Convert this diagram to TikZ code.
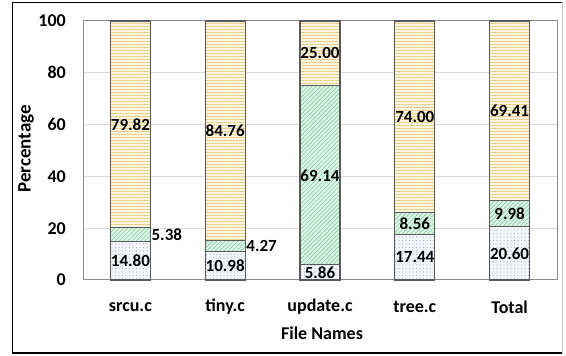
\documentclass[tikz,border=0pt]{standalone}
\usepackage{fontspec}
\setmainfont{Carlito}
\usepackage{tikz}
\usetikzlibrary{patterns.meta, positioning}
\definecolor{stripetan}{HTML}{EACB88}
\definecolor{stripecream}{HTML}{FDF6DE}
\definecolor{hatchgreen}{HTML}{86CDA3}
\definecolor{mintfill}{HTML}{DDF5E7}
\definecolor{dotblue}{HTML}{A3B4CC}
\definecolor{dotfill}{HTML}{F3F6FB}
\definecolor{gridgray}{HTML}{D9D9D9}
\definecolor{framegray}{HTML}{8C8C8C}
\definecolor{barline}{HTML}{5A5A5A}

\begin{document}
\begin{tikzpicture}[x=1pt, y=1pt,
  bar/.style={draw=barline, line width=1.1pt},
  topseg/.style={bar, preaction={fill=stripecream}, pattern={Lines[angle=0, distance=3pt, line width=0.9pt]}, pattern color=stripetan},
  midseg/.style={bar, preaction={fill=mintfill}, pattern={Lines[angle=45, distance=3pt, line width=0.6pt]}, pattern color=hatchgreen},
  lowseg/.style={bar, preaction={fill=dotfill}, pattern={Dots[distance=3.5pt, radius=0.55pt]}, pattern color=dotblue},
  val/.style={font=\fontsize{17}{17}\bfseries\selectfont, inner sep=0pt},
  axlab/.style={font=\fontsize{18}{18}\bfseries\selectfont, inner sep=0pt}]
  \useasboundingbox (0,0) rectangle (566,356);

  % Rahmen
  \draw[line width=1.5pt] (562,3) -- (12.5,3) -- (12.5,353.5) -- (562,353.5);
  \draw[gray!40, line width=1pt] (562,3) -- (562,353.5);

  \begin{scope}[shift={(83,76)}, y=2.59pt]
    % Gitter und Achsen
    \foreach \v in {20,40,60,80} \draw[gridgray, line width=0.8pt] (0,\v) -- (474,\v);
    \draw[framegray, line width=1pt] (0,0) rectangle (474,100);
    \foreach \v in {0,20,...,100}
      \node[axlab, anchor=east] (ytick\v) at (-17,\v) {\v};

    % Balken
    \foreach \i/\name/\lo/\mi/\hi/\ma/\mdx in {0/srcu.c/14.80/5.38/79.82/west/21,
        1/tiny.c/10.98/4.27/84.76/west/21, 2/update.c/5.86/69.14/25.00/center/0,
        3/tree.c/17.44/8.56/74.00/center/0, 4/Total/20.60/9.98/69.41/center/0} {
      \pgfmathsetmacro{\xc}{47.4+94.8*\i}
      \draw[lowseg] (\xc-20,0) rectangle (\xc+20,\lo);
      \draw[midseg] (\xc-20,\lo) rectangle (\xc+20,\lo+\mi);
      \draw[topseg] (\xc-20,\lo+\mi) rectangle (\xc+20,100);
      \node[val] (lo\i) at (\xc,\lo/2) {\lo};
      \node[val, anchor=\ma] (mi\i) at (\xc+\mdx,\lo+\mi/2) {\mi};
      \node[val] (hi\i) at (\xc,{(\lo+\mi+100)/2}) {\hi};
      \node[axlab] (xl\i) at (\xc,-10.4) {\name};
    }

    % Achsentitel
    \node[axlab] (xtitle) at (239,-20.5) {File Names};
    \node[axlab, rotate=90, font=\fontsize{19}{19}\bfseries\selectfont] (ytitle) at (-57,50.6) {Percentage};
  \end{scope}
\end{tikzpicture}
\end{document}
